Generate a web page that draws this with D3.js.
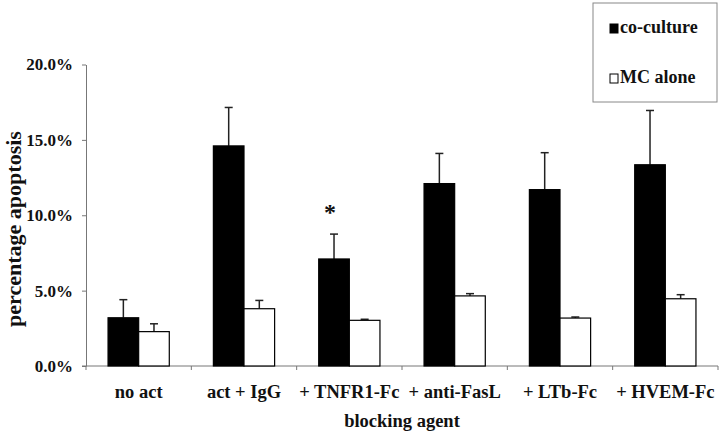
<!DOCTYPE html>
<html>
<head>
<meta charset="utf-8">
<script src="https://cdn.jsdelivr.net/npm/d3@7"></script>
</head>
<body style="margin:0; background:#fff">
<svg id="chart" width="720" height="433"></svg>
<script>
// data (percent apoptosis, mean and upper error)
var categories = ["no act", "act + IgG", "+ TNFR1-Fc", "+ anti-FasL", "+ LTb-Fc", "+ HVEM-Fc"];
var series = ["co-culture", "MC alone"];
var coculture = [3.2, 14.6, 7.1, 12.1, 11.7, 13.35];
var coErr = [1.2, 2.55, 1.65, 2.0, 2.45, 3.6];
var mcAlone = [2.28, 3.8, 3.03, 4.65, 3.18, 4.46];
var mcErr = [0.52, 0.55, 0.07, 0.15, 0.07, 0.27];
var yTicks = [0, 5, 10, 15, 20];
var starred = ["+ TNFR1-Fc"];

var FONT = "Liberation Serif";

function serif(sel, size) {
    return sel.attr("font-family", FONT).attr("font-weight", "bold")
        .attr("font-size", size).attr("fill", "#111");
}

var svg = d3.select("#chart");
var margin = { left: 86, right: 2, top: 64.5, bottom: 67 };
var width = 720 - margin.left - margin.right;
var height = 433 - margin.top - margin.bottom;

var g = svg.append("g").attr("transform", "translate(" + margin.left + "," + margin.top + ")");

var x = d3.scaleBand().domain(categories).range([0, width]).padding(0);
var xs = d3.scaleBand().domain(series).range([0, x.bandwidth()]).paddingInner(0).paddingOuter(0.72);
var y = d3.scaleLinear().domain([0, 20]).range([height, 0]);

var rows = categories.map(function (c, i) {
    return [
        { cat: c, key: series[0], value: coculture[i], err: coErr[i] },
        { cat: c, key: series[1], value: mcAlone[i], err: mcErr[i] }
    ];
});

// y axis
var yAxis = g.append("g")
    .call(d3.axisLeft(y).tickValues(yTicks).tickSize(4).tickSizeOuter(0).tickPadding(9)
        .tickFormat(function (d) { return d.toFixed(1) + "%"; }));
yAxis.selectAll("path, line").attr("stroke", "#777");
serif(yAxis.selectAll("text"), 17);

// x axis line and boundary ticks
g.append("line").attr("x1", -4).attr("x2", width).attr("y1", height).attr("y2", height).attr("stroke", "#777");
var bounds = categories.map(function (c) { return x(c); }).concat([width]);
g.selectAll(".xtick").data(bounds).enter().append("line")
    .attr("x1", function (d) { return d; }).attr("x2", function (d) { return d; })
    .attr("y1", height).attr("y2", height + 4).attr("stroke", "#777");

var xAxis = g.append("g").attr("transform", "translate(0," + height + ")")
    .call(d3.axisBottom(x).tickSize(0).tickPadding(19));
xAxis.select("path").remove();
serif(xAxis.selectAll("text"), 18.5);

// bars
var groups = g.selectAll(".grp").data(rows).enter().append("g")
    .attr("transform", function (d) { return "translate(" + x(d[0].cat) + ",0)"; });

groups.selectAll(".err").data(function (d) { return d; }).enter().append("g").each(function (d) {
    var cx = xs(d.key) + xs.bandwidth() / 2;
    var sel = d3.select(this);
    sel.append("line").attr("x1", cx).attr("x2", cx).attr("y1", y(d.value)).attr("y2", y(d.value + d.err))
        .attr("stroke", "#222").attr("stroke-width", 1.5);
    sel.append("line").attr("x1", cx - 4).attr("x2", cx + 4).attr("y1", y(d.value + d.err)).attr("y2", y(d.value + d.err))
        .attr("stroke", "#222").attr("stroke-width", 1.5);
});

groups.selectAll("rect").data(function (d) { return d; }).enter().append("rect")
    .attr("x", function (d) { return xs(d.key); })
    .attr("width", xs.bandwidth())
    .attr("y", function (d) { return y(d.value); })
    .attr("height", function (d) { return height - y(d.value); })
    .attr("fill", function (d) { return d.key === series[0] ? "#000" : "#fff"; })
    .attr("stroke", "#000").attr("stroke-width", 1.2);

// significance star
serif(g.selectAll(".star").data(rows.filter(function (d) { return starred.indexOf(d[0].cat) >= 0; })).enter()
    .append("text")
    .attr("x", function (d) { return x(d[0].cat) + xs(series[0]) + xs.bandwidth() / 2 - 4; })
    .attr("y", function (d) { return y(d[0].value + d[0].err) - 14; })
    .attr("text-anchor", "middle"), 24).text("*");

// axis titles
serif(svg.append("text").attr("x", margin.left + width / 2).attr("y", 427)
    .attr("text-anchor", "middle"), 18.5).text("blocking agent");
serif(svg.append("text").attr("transform", "translate(21,229) rotate(-90)")
    .attr("text-anchor", "middle"), 22).text("percentage apoptosis");

// legend
var leg = svg.append("g").attr("transform", "translate(593,3)");
leg.append("rect").attr("width", 124).attr("height", 99).attr("fill", "#fff").attr("stroke", "#888");
var li = leg.selectAll(".li").data(series).enter().append("g")
    .attr("transform", function (d, i) { return "translate(17," + (21 + i * 50) + ")"; });
li.append("rect").attr("width", 8).attr("height", 9)
    .attr("fill", function (d, i) { return i === 0 ? "#000" : "#fff"; }).attr("stroke", "#000").attr("stroke-width", 1);
serif(li.append("text").attr("x", 10).attr("y", 9), 18).text(function (d) { return d; });
</script>
</body>
</html>
